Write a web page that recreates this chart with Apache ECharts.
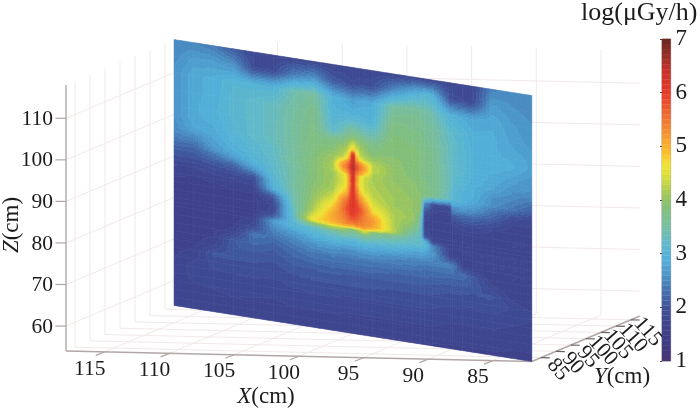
<!DOCTYPE html>
<html><head><meta charset="utf-8">
<style>html,body{margin:0;padding:0;background:#fff}#c{width:700px;height:410px}#c canvas{filter:blur(.4px)}</style>
<script src="https://cdn.jsdelivr.net/npm/echarts@6/dist/echarts.min.js"></script>
</head><body><div id="c"></div>
<script>
const xTicks=[115,110,105,100,95,90,85];
const yTicks=[85,90,95,100,105,110,115];
const zTicks=[60,70,80,90,100,110];
const colorbarTicks=[1,2,3,4,5,6,7];
const xRange=[118,82], yRange=[82,118], zRange=[54,118];
const zRows=[118,114,110,106,102,100,98,97,96,95,94,93,92,90,88,86,84,82,80,79,78,76,74,72,70,68,66,64,62,60,58,56,54];
const xCols=[118,116,114,112,110,108,106,104,102,101,100.6,100.3,100,99.7,99.3,98.8,98,96,94,93.2,92.8,92,90.2,90,89,88,86,84,82];
const doseByColumn=[
[2.5,2.55,2.6,2.6,2.6,2.6,2.55,2.55,2.5,2.45,2.35,2.25,2.15,2.0,1.85,1.78,1.72,1.7,1.7,1.7,1.7,1.7,1.7,1.72,1.72,1.73,1.74,1.76,1.79,1.8,1.8,1.8,1.8],
[2.5,2.7,2.85,2.85,2.85,2.85,2.8,2.75,2.6,2.5,2.35,2.25,2.15,2.0,1.85,1.75,1.7,1.7,1.7,1.7,1.7,1.7,1.7,1.72,1.72,1.76,1.82,1.9,1.87,1.84,1.82,1.8,1.8],
[2.4,2.7,2.9,2.9,2.95,2.9,2.85,2.85,2.8,2.75,2.7,2.6,2.4,2.1,1.9,1.78,1.72,1.7,1.7,1.7,1.7,1.72,1.72,1.75,1.82,2.05,1.98,1.93,1.88,1.85,1.82,1.8,1.78],
[2.1,2.6,3.05,3.1,3.1,3.05,3.05,3.0,3.0,2.95,2.9,2.85,2.7,2.2,1.95,1.8,1.75,1.7,1.7,1.7,1.72,1.72,1.78,2.1,2.12,2.05,1.98,1.94,1.9,1.87,1.84,1.81,1.78],
[1.85,1.95,3.0,3.2,3.2,3.2,3.2,3.15,3.1,3.1,3.05,3.0,3.0,2.7,2.0,1.85,1.75,1.72,1.72,1.72,1.75,1.9,2.35,2.25,2.12,2.05,2.0,1.95,1.9,1.86,1.83,1.8,1.77],
[1.82,1.95,3.0,3.3,3.3,3.3,3.3,3.3,3.25,3.25,3.25,3.2,3.2,3.15,3.05,2.95,2.1,1.85,1.9,2.2,2.7,2.5,2.3,2.15,2.08,2.02,1.97,1.92,1.88,1.85,1.82,1.79,1.76],
[1.82,2.4,3.4,3.5,3.55,3.55,3.55,3.55,3.55,3.5,3.55,3.55,3.5,3.5,3.5,3.45,3.4,3.3,3.2,3.1,3.05,2.65,2.45,2.3,2.2,2.1,2.03,1.97,1.92,1.88,1.84,1.8,1.76],
[1.82,2.6,3.55,3.7,3.75,3.75,3.8,3.8,3.8,3.85,3.85,3.85,3.85,3.85,3.9,3.95,4.05,4.2,4.7,3.9,3.2,2.9,2.6,2.4,2.25,2.13,2.05,1.98,1.93,1.88,1.84,1.8,1.76],
[1.82,2.1,2.95,3.0,3.2,3.7,3.85,3.95,4.05,4.1,4.15,4.15,4.1,4.1,4.15,4.4,4.8,5.1,5.0,4.3,3.5,3.05,2.65,2.42,2.28,2.14,2.05,1.98,1.93,1.88,1.84,1.79,1.75],
[1.85,2.05,2.85,3.0,3.4,3.8,4.1,4.15,4.3,5.0,5.3,5.0,4.5,4.4,4.7,5.3,5.5,5.4,5.2,4.2,3.6,3.0,2.6,2.4,2.25,2.13,2.05,1.98,1.92,1.88,1.83,1.79,1.74],
[1.85,2.0,2.8,3.05,3.6,3.9,4.2,4.35,4.7,5.3,5.5,5.3,4.8,4.7,4.9,5.5,5.8,5.6,5.3,4.0,3.6,3.0,2.6,2.4,2.25,2.13,2.05,1.98,1.92,1.88,1.83,1.79,1.74],
[1.85,1.98,2.75,3.0,3.65,4.05,4.5,4.9,5.2,5.7,6.0,5.7,5.4,5.3,5.6,5.9,6.0,5.8,5.3,3.9,3.55,3.0,2.6,2.4,2.25,2.13,2.05,1.98,1.92,1.88,1.83,1.79,1.74],
[1.85,1.95,2.7,3.0,3.7,4.2,5.0,6.6,6.7,6.6,6.7,6.6,6.5,6.4,6.3,6.2,6.2,5.9,5.2,3.9,3.55,3.0,2.6,2.4,2.25,2.13,2.05,1.98,1.92,1.88,1.83,1.79,1.74],
[1.85,1.98,2.75,3.0,3.65,4.05,4.5,4.9,5.2,5.7,6.0,5.7,5.4,5.3,5.6,5.9,6.0,5.8,5.4,4.0,3.55,3.0,2.6,2.4,2.25,2.13,2.05,1.98,1.92,1.88,1.83,1.79,1.74],
[1.85,2.0,2.8,3.0,3.55,3.95,4.2,4.3,4.6,5.3,5.5,5.3,4.7,4.6,4.9,5.4,5.8,5.6,5.3,4.2,3.6,3.0,2.65,2.4,2.25,2.13,2.05,1.98,1.92,1.88,1.83,1.79,1.74],
[1.85,2.0,2.85,2.95,3.5,3.85,4.0,4.1,4.3,4.9,5.2,4.9,4.4,4.3,4.5,5.0,5.4,5.4,5.3,4.5,3.7,3.05,2.65,2.4,2.25,2.13,2.05,1.98,1.92,1.88,1.83,1.79,1.74],
[1.85,2.0,2.85,2.95,3.4,3.7,3.85,3.95,4.1,4.25,4.3,4.2,4.15,4.2,4.25,4.4,4.7,5.2,5.1,3.9,3.5,3.0,2.65,2.4,2.25,2.13,2.05,1.98,1.92,1.88,1.83,1.79,1.74],
[1.82,2.5,3.5,3.75,3.85,3.9,3.9,3.95,3.95,4.0,4.0,4.0,4.0,4.05,4.1,4.1,4.2,4.2,4.3,3.6,3.4,2.95,2.55,2.38,2.22,2.12,2.03,1.97,1.92,1.87,1.83,1.78,1.74],
[1.82,2.9,3.6,3.7,3.8,3.85,3.85,3.85,3.85,3.85,3.85,3.9,3.95,3.95,4.0,4.0,4.05,3.85,3.4,3.3,3.2,2.8,2.5,2.35,2.2,2.1,2.03,1.97,1.92,1.87,1.83,1.78,1.74],
[1.85,3.0,3.55,3.7,3.75,3.8,3.8,3.8,3.8,3.8,3.8,3.85,3.85,3.9,3.95,3.9,3.6,3.4,3.3,3.25,3.2,2.8,2.5,2.33,2.2,2.1,2.03,1.97,1.92,1.87,1.83,1.78,1.74],
[1.85,3.05,3.5,3.6,3.7,3.7,3.7,3.7,3.7,3.7,3.7,3.75,3.75,3.8,2.6,2.0,1.85,1.8,2.0,2.9,3.15,2.75,2.45,2.3,2.2,2.1,2.03,1.97,1.92,1.87,1.83,1.78,1.74],
[1.85,3.0,3.4,3.55,3.6,3.65,3.65,3.7,3.7,3.7,3.7,3.7,3.7,3.7,1.95,1.82,1.8,1.8,1.8,1.85,2.5,2.65,2.45,2.3,2.18,2.08,2.02,1.96,1.91,1.87,1.83,1.78,1.74],
[1.8,2.0,2.95,3.2,3.3,3.3,3.3,3.3,3.3,3.3,3.3,3.3,3.3,3.25,1.9,1.8,1.78,1.75,1.75,1.75,1.75,1.85,2.45,2.3,2.15,2.05,1.98,1.93,1.88,1.84,1.8,1.76,1.74],
[1.8,2.0,2.95,3.15,3.25,3.25,3.25,3.25,3.25,3.2,3.2,3.15,3.1,3.1,2.6,2.1,1.85,1.78,1.75,1.75,1.75,1.85,2.45,2.3,2.15,2.05,1.98,1.93,1.88,1.84,1.8,1.76,1.74],
[1.85,1.95,2.85,3.05,3.1,3.1,3.1,3.1,3.05,3.05,3.0,3.0,2.95,2.95,2.65,2.2,1.9,1.8,1.75,1.75,1.75,1.75,1.85,2.3,2.15,2.05,1.98,1.92,1.88,1.84,1.8,1.76,1.74],
[1.85,1.9,2.8,2.9,2.95,2.95,2.95,2.95,2.95,2.95,2.9,2.9,2.9,2.85,2.6,2.2,1.95,1.8,1.75,1.75,1.75,1.75,1.75,2.1,2.12,2.03,1.97,1.92,1.87,1.84,1.8,1.76,1.74],
[2.45,2.7,2.85,2.9,2.9,2.95,2.9,2.85,2.85,2.8,2.8,2.7,2.6,2.55,2.3,2.05,1.85,1.78,1.75,1.75,1.75,1.75,1.75,1.76,1.9,2.05,2.0,1.94,1.88,1.84,1.8,1.76,1.74],
[2.55,2.6,2.7,2.75,2.85,2.9,2.8,2.75,2.7,2.65,2.6,2.55,2.5,2.4,2.0,1.85,1.78,1.75,1.75,1.75,1.75,1.75,1.75,1.75,1.76,1.82,1.93,1.9,1.85,1.81,1.78,1.75,1.74],
[2.55,2.55,2.6,2.65,2.75,2.75,2.65,2.6,2.6,2.6,2.55,2.45,2.35,2.15,1.9,1.82,1.78,1.75,1.75,1.75,1.75,1.75,1.75,1.75,1.75,1.75,1.83,1.84,1.82,1.8,1.77,1.75,1.74]
];
const colorLevels=[1,1.3,1.7,2,2.3,2.6,2.9,3.2,3.5,3.85,4.1,4.4,4.65,4.9,5.2,5.6,6,6.4,6.7,7];
const colorHex=['#4a3573','#3f3b80','#40458c','#405299','#4670ae','#4d95c8','#53b0d9','#62bacb','#78bfa4','#84c07c','#a0c85c','#d4dc40','#f0e438','#f9bd2e','#f59a32','#ee6a30','#e63a2a','#c8322a','#963028','#68281f'];

const BUCKETS=64, FONT='"Liberation Serif",serif', INK='#1c1c1c', AXIS='#b2a6a6', GRID='#f2e9e9';
function rgb(h){return [1,3,5].map(i=>parseInt(h.substr(i,2),16));}
function colorOf(v){
  let i=0; while(i<colorLevels.length-2&&v>colorLevels[i+1])i++;
  const t=Math.max(0,Math.min(1,(v-colorLevels[i])/(colorLevels[i+1]-colorLevels[i])));
  const a=rgb(colorHex[i]),b=rgb(colorHex[i+1]);
  return 'rgb('+a.map((c,k)=>Math.round(c+(b[k]-c)*t)).join(',')+')';
}
function bucketOf(v){return Math.max(0,Math.min(BUCKETS-1,Math.floor((v-1)/6*BUCKETS)));}
function bucketValue(b){return 1+(b+0.5)*6/BUCKETS;}
function project(X,Y,Z){
  const a=xRange[0]-X,b=Y-yRange[0],c=Z-zRange[0];
  return [66+12.94*a+3*b, 351+0.2917*a-1.264*b-4.156*c];
}
const f2=n=>n.toFixed(2);

const cells=[];
for(let i=0;i<xCols.length-1;i++)for(let j=0;j<zRows.length-1;j++)cells.push([i,j,doseByColumn[i][j]]);
function renderCell(params,api){
  const i=api.value(0),j=api.value(1);
  const x0=xCols[i],x1=xCols[i+1],z0=zRows[j],z1=zRows[j+1];
  const a=doseByColumn[i][j],b=doseByColumn[i+1][j],c=doseByColumn[i][j+1],d=doseByColumn[i+1][j+1];
  const n=Math.max(1,Math.ceil(Math.abs(x1-x0)*9.96/1.5)),m=Math.max(1,Math.ceil(Math.abs(z1-z0)*4.156/1.5));
  const pts=[];
  for(let q=0;q<=n;q++){pts.push([]);for(let r=0;r<=m;r++){
    const X=x0+(x1-x0)*q/n,Z=z0+(z1-z0)*r/m;pts[q].push(api.coord(project(X,X,Z)));}}
  const paths={};
  for(let q=0;q<n;q++)for(let r=0;r<m;r++){
    const u=(q+.5)/n,w=(r+.5)/m;
    const v=a*(1-u)*(1-w)+b*u*(1-w)+c*(1-u)*w+d*u*w;
    const k=bucketOf(v);
    const p=pts[q][r],p2=pts[q+1][r],p3=pts[q+1][r+1],p4=pts[q][r+1];
    paths[k]=(paths[k]||'')+'M'+f2(p[0])+' '+f2(p[1])+'L'+f2(p2[0])+' '+f2(p2[1])+'L'+f2(p3[0])+' '+f2(p3[1])+'L'+f2(p4[0])+' '+f2(p4[1])+'Z';
  }
  const children=Object.keys(paths).map(Number).sort((s,t)=>s-t).map(k=>{
    const col=colorOf(bucketValue(k));
    return {type:'path',shape:{pathData:paths[k]},style:{fill:col,stroke:col,lineWidth:0.5}};
  });
  return {type:'group',children};
}

const [Xa,Xb]=xRange,[Ya,Yb]=yRange,[Za,Zb]=zRange;
const segs=[];
xTicks.forEach(x=>{segs.push([x,Ya,Za,x,Yb,Za,0],[x,Yb,Za,x,Yb,Zb,0]);});
yTicks.forEach(y=>{segs.push([Xa,y,Za,Xb,y,Za,0],[Xa,y,Za,Xa,y,Zb,0]);});
zTicks.forEach(z=>{segs.push([Xa,Ya,z,Xa,Yb,z,0],[Xa,Yb,z,Xb,Yb,z,0]);});
segs.push([Xa,Ya,Za,Xb,Ya,Za,1],[Xb,Ya,Za,Xb,Yb,Za,1],[Xa,Ya,Za,Xa,Ya,Zb,1]);
function renderSeg(params,api){
  const v=k=>api.value(k);
  const p=api.coord(project(v(0),v(1),v(2))),q=api.coord(project(v(3),v(4),v(5)));
  const ax=v(6)===1;
  return {type:'line',shape:{x1:p[0],y1:p[1],x2:q[0],y2:q[1]},style:{stroke:ax?AXIS:GRID,lineWidth:ax?1.4:1,fill:null}};
}
const marks=[];
xTicks.forEach(x=>marks.push({p:[x,Ya,Za],t:[-9,3.5],l:[-15,17],s:String(x),r:0,a:'center'}));
yTicks.forEach(y=>marks.push({p:[Xb,y,Za],t:[9,0.2],l:[17,12],s:String(y),r:-0.85,a:'center'}));
zTicks.forEach(z=>marks.push({p:[Xa,Ya,z],t:[-10.5,0],l:[-13,1],s:String(z),r:0,a:'right'}));
function renderMark(params,api){
  const m=marks[api.value(0)];
  const o=api.coord(project(m.p[0],m.p[1],m.p[2]));
  return {type:'group',children:[
    {type:'line',shape:{x1:o[0],y1:o[1],x2:o[0]+m.t[0],y2:o[1]+m.t[1]},style:{stroke:m.r?'#6a6262':AXIS,lineWidth:1.2,fill:null}},
    {type:'text',x:o[0]+m.l[0],y:o[1]+m.l[1],rotation:m.r,style:{text:m.s,fontFamily:FONT,fontSize:21.5,fill:INK,align:m.a,verticalAlign:'middle'}}
  ]};
}
const axisTitles=[
  {name:'X',pos:[266,397],r:0},
  {name:'Y',pos:[622,377],r:0},
  {name:'Z',pos:[12,225],r:Math.PI/2}
];
function renderTitle(params,api){
  const t=axisTitles[api.value(0)];
  const c=api.coord(t.pos);
  return {type:'text',x:c[0],y:c[1],rotation:t.r,style:{text:'{i|'+t.name+'}{n|(cm)}',align:'center',verticalAlign:'middle',
    rich:{i:{fontStyle:'italic',fontSize:23,fontFamily:FONT,fill:INK},n:{fontSize:23,fontFamily:FONT,fill:INK}}}};
}
const barLevels=[];for(let b=0;b<BUCKETS;b++)barLevels.push([0,b]);
function renderBar(params,api){
  const b=api.value(1);
  const lo=api.coord([0,1+b*6/BUCKETS]),hi=api.coord([1,1+(b+1)*6/BUCKETS]);
  const col=colorOf(bucketValue(b));
  return {type:'rect',shape:{x:lo[0],y:hi[1],width:hi[0]-lo[0],height:lo[1]-hi[1]},style:{fill:col,stroke:col,lineWidth:0.3}};
}

const chart=echarts.init(document.getElementById('c'),null,{renderer:'canvas'});
chart.setOption({
  animation:false,backgroundColor:'#fff',
  title:{text:'log(\u03bcGy/h)',left:581,top:0,padding:0,textStyle:{fontFamily:FONT,fontWeight:'normal',fontSize:26,color:INK}},
  grid:[
    {left:0,top:0,width:700,height:410,show:false},
    {left:662,top:39,width:8.6,height:322,show:true,borderColor:'#aaa3a3',borderWidth:1,backgroundColor:'transparent'}
  ],
  xAxis:[
    {type:'value',gridIndex:0,min:0,max:700,show:false},
    {type:'value',gridIndex:1,min:0,max:1,show:false}
  ],
  yAxis:[
    {type:'value',gridIndex:0,min:0,max:410,inverse:true,show:false},
    {type:'value',gridIndex:1,min:colorbarTicks[0],max:colorbarTicks[colorbarTicks.length-1],interval:1,position:'right',
     axisLine:{show:false},axisTick:{show:true,inside:true,length:2,lineStyle:{color:'#444'}},splitLine:{show:false},
     axisLabel:{margin:5,fontFamily:FONT,fontSize:23,color:INK}}
  ],
  series:[
    {type:'custom',name:'box',xAxisIndex:0,yAxisIndex:0,silent:true,z:1,progressive:0,data:segs,renderItem:renderSeg},
    {type:'custom',name:'marks',xAxisIndex:0,yAxisIndex:0,silent:true,z:2,progressive:0,data:marks.map((m,i)=>[i]),renderItem:renderMark},
    {type:'custom',name:'dose',xAxisIndex:0,yAxisIndex:0,silent:true,z:3,progressive:0,data:cells,renderItem:renderCell},
    {type:'custom',name:'titles',xAxisIndex:0,yAxisIndex:0,silent:true,z:4,progressive:0,data:axisTitles.map((t,i)=>[i]),renderItem:renderTitle},
    {type:'custom',name:'colorbar',xAxisIndex:1,yAxisIndex:1,silent:true,z:5,progressive:0,data:barLevels,renderItem:renderBar}
  ]
});
</script></body></html>
